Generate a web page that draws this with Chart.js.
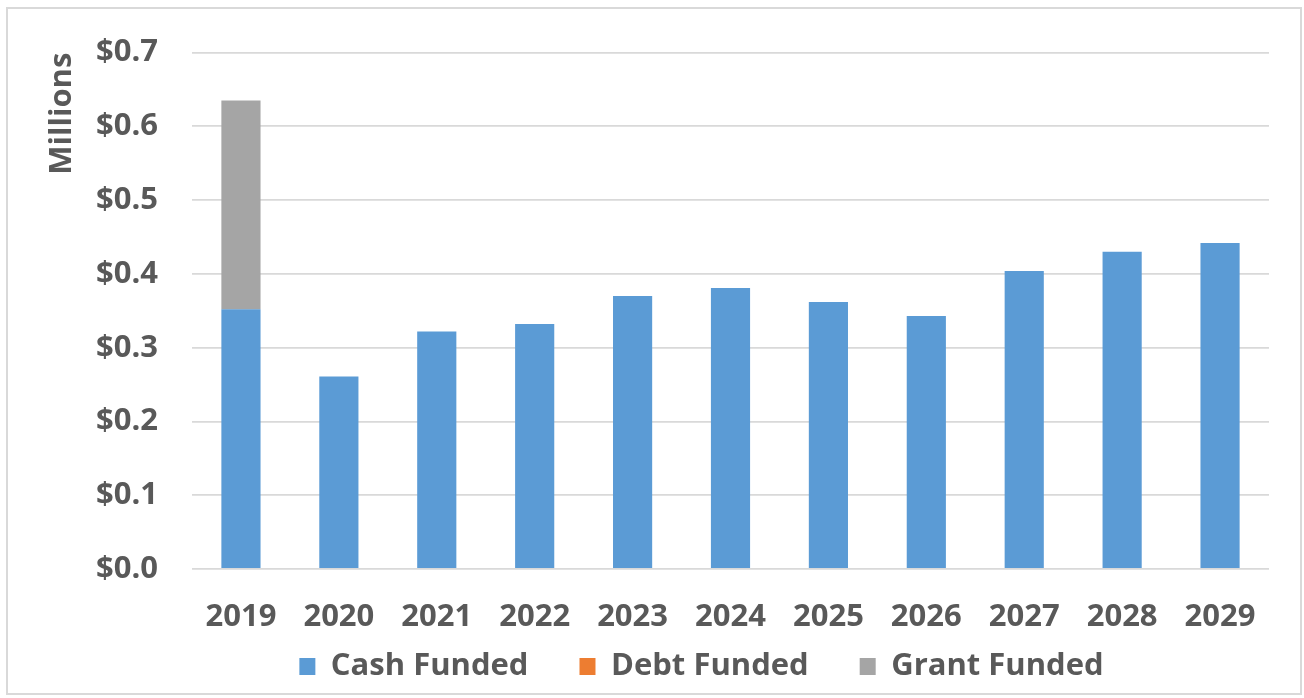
<!DOCTYPE html>
<html>
<head>
<meta charset="utf-8">
<script src="https://cdn.jsdelivr.net/npm/chart.js@4"></script>
<style>
  html, body { margin: 0; padding: 0; background: #fff; }
  #wrap { width: 1304px; height: 698px; }
</style>
</head>
<body>
<div id="wrap"><canvas id="chart"></canvas></div>
<script>
// capital spending by year, in millions
const years = ['2019', '2020', '2021', '2022', '2023', '2024', '2025', '2026', '2027', '2028', '2029'];
const cashFunded = [0.352, 0.261, 0.322, 0.332, 0.370, 0.381, 0.362, 0.343, 0.404, 0.430, 0.442];
const debtFunded = [0, 0, 0, 0, 0, 0, 0, 0, 0, 0, 0];
const grantFunded = [0.283, 0, 0, 0, 0, 0, 0, 0, 0, 0, 0];
const yTicks = [0, 0.1, 0.2, 0.3, 0.4, 0.5, 0.6, 0.7];

const textColor = '#595959';
const gridColor = '#D9D9D9';
const font = { family: '"Open Sans", sans-serif', size: 31, weight: 'bold' };

// light border round the whole chart
const frame = {
  id: 'frame',
  beforeDraw(chart) {
    const c = chart.ctx;
    c.save();
    c.strokeStyle = '#D9D9D9';
    c.lineWidth = 2;
    c.strokeRect(7, 8, 1294, 686);
    c.restore();
  }
};

// the legend keeps wide gaps between items, so stretch its box up under
// the year labels and centre it on the plot instead of the canvas
const legendNudge = {
  id: 'legendNudge',
  afterLayout(chart) {
    const lg = chart.legend;
    if (!lg) return;
    lg.top -= 42;
    lg.left += 67;
    lg.right += 67;
  }
};

new Chart(document.getElementById('chart'), {
  type: 'bar',
  data: {
    labels: years,
    datasets: [
      { label: 'Cash Funded', data: cashFunded, backgroundColor: '#5B9BD5' },
      { label: 'Debt Funded', data: debtFunded, backgroundColor: '#ED7D31' },
      { label: 'Grant Funded', data: grantFunded, backgroundColor: '#A5A5A5' }
    ]
  },
  options: {
    responsive: true,
    maintainAspectRatio: false,
    animation: false,
    datasets: { bar: { categoryPercentage: 1, barPercentage: 0.4, borderWidth: 0 } },
    layout: { padding: { top: 49, right: 35, bottom: 0, left: 0 } },
    plugins: {
      tooltip: { enabled: false },
      legend: {
        position: 'bottom',
        maxHeight: 56,
        labels: {
          color: textColor,
          font: font,
          boxWidth: 16,
          boxHeight: 17,
          padding: 51
        }
      }
    },
    scales: {
      x: {
        stacked: true,
        grid: { display: false },
        border: { display: false },
        ticks: { color: textColor, font: font, padding: 22, maxRotation: 0, autoSkip: false },
        afterFit(scale) { scale.height = 73; }
      },
      y: {
        stacked: true,
        min: 0,
        max: 0.7,
        afterBuildTicks(scale) { scale.ticks = yTicks.map(v => ({ value: v })); },
        ticks: {
          color: textColor,
          font: font,
          padding: 34,
          callback: v => '$' + Number(v).toFixed(1)
        },
        grid: { color: gridColor, lineWidth: 1.8, drawTicks: false },
        border: { display: false },
        title: {
          display: true,
          text: 'Millions',
          align: 'end',
          color: textColor,
          font: font,
          padding: { top: 44, bottom: 0 }
        },
        afterFit(scale) { scale.width = 192; }
      }
    }
  },
  plugins: [frame, legendNudge]
});
</script>
</body>
</html>
